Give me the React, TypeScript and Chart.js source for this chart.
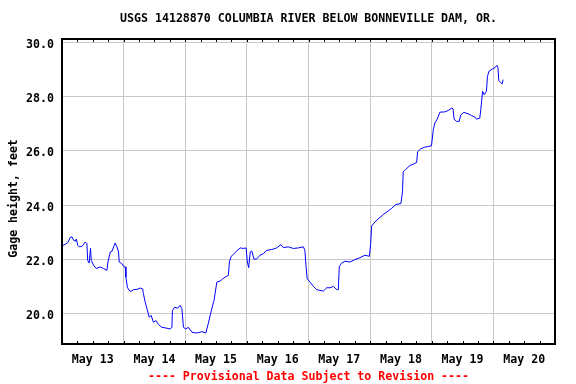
import React, { useEffect, useRef } from 'react';
import { Chart, registerables } from 'chart.js';

Chart.register(...registerables);

const TITLE = 'USGS 14128870 COLUMBIA RIVER BELOW BONNEVILLE DAM, OR.';
const FOOTER = '---- Provisional Data Subject to Revision ----';
const Y_TITLE = 'Gage height, feet';

const dayLabels = ['May 13', 'May 14', 'May 15', 'May 16', 'May 17', 'May 18', 'May 19', 'May 20'];
const yTicks = [20, 22, 24, 26, 28, 30];

// hours since May 13 00:00
const hours = [
  0, 1.3, 2.3, 3.2, 3.9, 4.5, 5.2, 5.6, 6.1, 6.7, 7.8, 9.1, 9.7, 10.0, 10.6, 11.1, 11.4, 12.3, 13.3, 14.9,
  16.2, 17.5, 17.9, 18.8, 19.5, 20.1, 20.7, 21.4, 22.0, 22.3, 23.3, 24.0, 24.6, 24.9, 25.5, 26.6, 27.9, 29.2,
  30.5, 31.4, 31.7, 32.4, 33.1, 34.0, 34.7, 35.6, 36.6, 37.6, 38.9, 40.2, 42.1, 42.8, 43.0, 43.8, 45.1, 46.0,
  46.7, 47.3, 48.2, 49.2, 50.6, 52.5, 54.5, 56.0, 57.0, 58.0, 59.0, 59.2, 60.3, 61.6, 62.6, 63.5, 64.8, 65.2,
  65.9, 66.8, 68.1, 69.4, 70.6, 71.7, 72.2, 72.7, 73.3, 73.9, 74.8, 75.9, 77.1, 78.4, 79.7, 81.7, 83.6, 85.2,
  86.2, 88.1, 90.1, 92.0, 94.0, 94.6, 95.0, 95.5, 96.6, 97.9, 99.2, 100.5, 101.8, 103.1, 104.4, 105.7, 107.0,
  107.6, 108.0, 108.9, 110.2, 112.1, 114.1, 116.0, 118.0, 119.7, 120.2, 120.6, 121.9, 123.5, 125.1, 127.0,
  128.4, 130.0, 132.0, 132.6, 132.9, 133.9, 135.5, 137.0, 138.1, 138.5, 139.6, 141.3, 142.6, 143.9, 144.6,
  145.2, 146.1, 147.2, 149.1, 150.4, 151.7, 152.3, 152.7, 153.7, 154.7, 155.3, 156.5, 158.2, 159.5, 160.8,
  161.4, 162.7, 163.1, 163.8, 164.4, 165.3, 165.7, 166.3, 167.7, 168.6, 169.4, 169.8, 170.1, 170.8, 171.4,
  171.8,
];

const gage = [
  22.49, 22.56, 22.62, 22.8, 22.83, 22.7, 22.67, 22.75, 22.52, 22.46, 22.48, 22.64, 22.58, 21.96, 21.86, 22.4,
  21.96, 21.78, 21.66, 21.72, 21.66, 21.59, 21.9, 22.27, 22.3, 22.46, 22.6, 22.46, 22.27, 21.9, 21.84, 21.74,
  21.72, 21.34, 20.95, 20.81, 20.88, 20.89, 20.94, 20.91, 20.73, 20.42, 20.17, 19.86, 19.93, 19.68, 19.74,
  19.59, 19.49, 19.47, 19.43, 19.49, 20.11, 20.23, 20.2, 20.3, 20.17, 19.49, 19.43, 19.49, 19.31, 19.28, 19.33,
  19.28, 19.64, 20.05, 20.42, 20.48, 21.16, 21.2, 21.28, 21.34, 21.41, 21.9, 22.11, 22.19, 22.31, 22.42, 22.4,
  22.42, 21.9, 21.69, 22.27, 22.31, 22.0, 22.02, 22.15, 22.21, 22.33, 22.36, 22.42, 22.54, 22.43, 22.46, 22.4,
  22.42, 22.46, 22.33, 21.78, 21.28, 21.16, 21.0, 20.88, 20.85, 20.83, 20.95, 20.95, 21.0, 20.88, 20.88, 21.74,
  21.86, 21.93, 21.9, 21.99, 22.06, 22.15, 22.11, 22.55, 23.23, 23.38, 23.52, 23.65, 23.78, 23.88, 24.02,
  24.06, 24.49, 25.23, 25.32, 25.46, 25.52, 25.57, 25.97, 26.07, 26.14, 26.16, 26.19, 26.78, 27.03, 27.17,
  27.43, 27.44, 27.49, 27.58, 27.56, 27.17, 27.09, 27.09, 27.33, 27.42, 27.37, 27.3, 27.25, 27.17, 27.21,
  27.52, 28.2, 28.07, 28.2, 28.75, 28.94, 29.03, 29.07, 29.16, 29.07, 28.6, 28.53, 28.47, 28.63,
];

const FONT_FAMILY = '"DejaVu Sans Mono", "Liberation Mono", monospace';
const GRID = 'rgb(200,200,200)';

const framePlugin = {
  id: 'usgsFrame',
  afterDraw(chart: any) {
    const { ctx, chartArea: a, scales } = chart;
    const xs = scales.x;
    ctx.save();
    ctx.strokeStyle = '#000';
    ctx.lineWidth = 1;
    ctx.beginPath();
    xs.ticks.forEach((t: any) => {
      const px = Math.round(xs.getPixelForValue(t.value)) + 0.5;
      ctx.moveTo(px, a.top);
      ctx.lineTo(px, a.top + 3);
      ctx.moveTo(px, a.bottom);
      ctx.lineTo(px, a.bottom - 3);
    });
    ctx.stroke();
    ctx.lineWidth = 2;
    ctx.strokeRect(a.left, a.top, a.right - a.left, a.bottom - a.top);
    ctx.restore();
  },
};

export default function App() {
  const ref = useRef<HTMLCanvasElement | null>(null);

  useEffect(() => {
    if (!ref.current) return;
    const font = { family: FONT_FAMILY, size: 11.6, weight: 'bold' as const, lineHeight: '14px' };
    const points = hours.map((h, i) => ({ x: h, y: gage[i] }));
    const chart = new Chart(ref.current, {
      type: 'line',
      data: {
        datasets: [
          {
            data: points,
            borderColor: '#0000ff',
            borderWidth: 1,
            pointRadius: 0,
            tension: 0,
            fill: false,
          },
        ],
      },
      options: {
        animation: false,
        responsive: false,
        devicePixelRatio: 1,
        layout: { padding: { left: 0, right: 21, top: 0, bottom: 0 } },
        plugins: {
          legend: { display: false },
          tooltip: { enabled: false },
          title: {
            display: true,
            text: TITLE,
            fullSize: false,
            color: '#000',
            font,
            padding: { top: 12, bottom: 13 },
          },
          subtitle: {
            display: true,
            text: FOOTER,
            position: 'bottom',
            fullSize: false,
            color: '#ff0000',
            font,
            padding: { top: 0, bottom: 0 },
          },
        },
        scales: {
          x: {
            type: 'linear',
            min: 0,
            max: dayLabels.length * 24,
            afterBuildTicks: (s: any) => {
              const t: any[] = [];
              for (let v = 0; v <= dayLabels.length * 24; v += 6) t.push({ value: v });
              s.ticks = t;
            },
            afterFit: (s: any) => {
              s.height = 26;
            },
            grid: {
              color: (c: any) => (c.tick && c.tick.value % 24 === 0 ? GRID : 'rgba(0,0,0,0)'),
              lineWidth: 1,
              drawTicks: false,
            },
            border: { display: false },
            ticks: {
              autoSkip: false,
              maxRotation: 0,
              minRotation: 0,
              padding: 9,
              color: '#000',
              font,
              callback: (v: any) => {
                const n = Number(v);
                return n % 24 === 12 ? dayLabels[Math.floor(n / 24)] : '';
              },
            },
          },
          y: {
            type: 'linear',
            min: 18.875,
            max: 30.129,
            afterBuildTicks: (s: any) => {
              s.ticks = yTicks.map((v) => ({ value: v }));
            },
            afterFit: (s: any) => {
              s.width = 62;
            },
            grid: { color: GRID, lineWidth: 1, drawTicks: false },
            border: { display: false },
            ticks: {
              padding: 8,
              labelOffset: 2.5,
              color: '#000',
              font,
              callback: (v: any) => Number(v).toFixed(1),
            },
            title: {
              display: true,
              text: Y_TITLE + '  ',
              color: '#000',
              font,
              padding: { top: 7, bottom: 0 },
            },
          },
        },
      },
      plugins: [framePlugin],
    });
    return () => chart.destroy();
  }, []);

  return (
    <div style={{ position: 'absolute', left: 0, top: 0, width: 576, height: 384, background: '#fff' }}>
      <canvas ref={ref} width={576} height={384} style={{ display: 'block' }} />
    </div>
  );
}
